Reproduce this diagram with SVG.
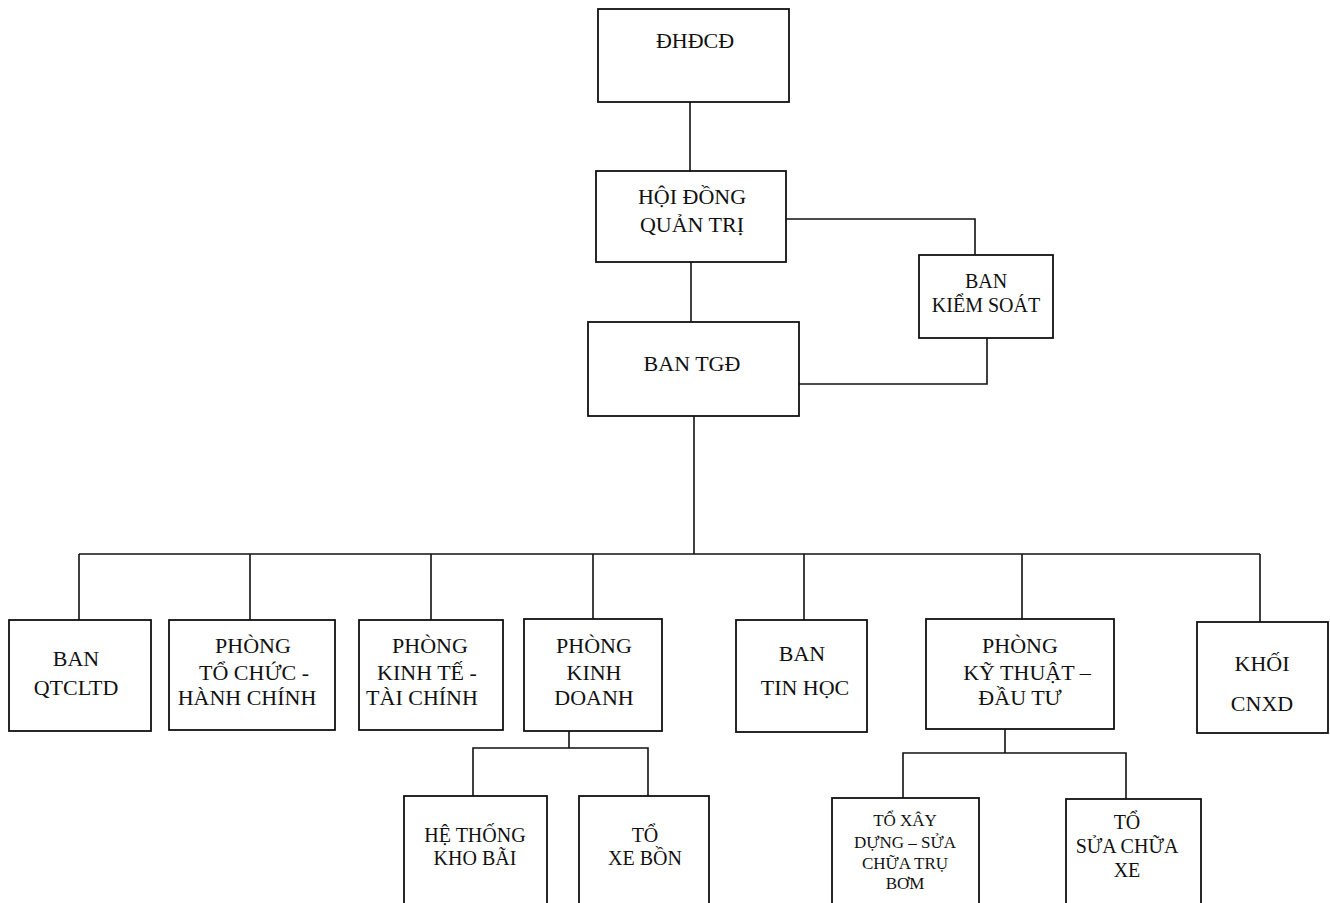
<svg xmlns="http://www.w3.org/2000/svg" width="1330" height="903" viewBox="0 0 1330 903">
<style>
rect{fill:#fff;stroke:#111;stroke-width:1.8}
.c{fill:none;stroke:#111;stroke-width:1.6}
text{fill:#111;text-anchor:middle}
.l{font-size:22px}
.m{font-size:20px}
.s{font-size:17px}
</style>
<rect x="0" y="0" width="1330" height="903" style="fill:#fff;stroke:none"/>
<g id="connectors">
<path class="c" d="M690 102V171"/>
<path class="c" d="M786 219H975V255"/>
<path class="c" d="M691 262V322"/>
<path class="c" d="M799 384H987V338"/>
<path class="c" d="M694 416V554"/>
<path class="c" d="M79 554H1260"/>
<path class="c" d="M79 554V620M250 554V620M431 554V620M593 554V619M804 554V620M1022 554V619M1260 554V622"/>
<path class="c" d="M569 731V748M473 796V748H648V796"/>
<path class="c" d="M1005 729V753M903 798V753H1126V799"/>
</g>
<g font-family="'Liberation Serif', 'DejaVu Serif', serif">
<g id="dhdcd"><rect x="598" y="9" width="191" height="93"/><text class="l" x="695" y="48">ĐHĐCĐ</text></g>
<g id="hdqt"><rect x="596" y="171" width="190" height="91"/><text class="l" x="692" y="204">HỘI ĐỒNG</text><text class="l" x="692" y="232">QUẢN TRỊ</text></g>
<g id="bks"><rect x="919" y="255" width="134" height="83"/><text class="m" x="986" y="288">BAN</text><text class="m" x="986" y="312">KIỂM SOÁT</text></g>
<g id="tgd"><rect x="588" y="322" width="211" height="94"/><text class="l" x="692" y="371">BAN TGĐ</text></g>
<g id="qtcltd"><rect x="9" y="620" width="142" height="111"/><text class="l" x="76" y="666">BAN</text><text class="l" x="76" y="695">QTCLTD</text></g>
<g id="tchc"><rect x="169" y="620" width="166" height="110"/><text class="l" x="253" y="653">PHÒNG</text><text class="l" x="254" y="680">TỔ CHỨC -</text><text class="l" x="247" y="705">HÀNH CHÍNH</text></g>
<g id="ktct"><rect x="359" y="620" width="144" height="110"/><text class="l" x="430" y="653">PHÒNG</text><text class="l" x="427" y="680">KINH TẾ -</text><text class="l" x="422" y="705">TÀI CHÍNH</text></g>
<g id="kd"><rect x="524" y="619" width="138" height="112"/><text class="l" x="594" y="653">PHÒNG</text><text class="l" x="594" y="680">KINH</text><text class="l" x="594" y="705">DOANH</text></g>
<g id="th"><rect x="736" y="620" width="131" height="112"/><text class="l" x="802" y="661">BAN</text><text class="l" x="805" y="695">TIN HỌC</text></g>
<g id="ktdt"><rect x="926" y="619" width="188" height="110"/><text class="l" x="1020" y="653">PHÒNG</text><text class="l" x="1027" y="680">KỸ THUẬT –</text><text class="l" x="1020" y="705">ĐẦU TƯ</text></g>
<g id="cnxd"><rect x="1197" y="622" width="131" height="111"/><text class="l" x="1262" y="671">KHỐI</text><text class="l" x="1262" y="711">CNXD</text></g>
<g id="htkb"><rect x="404" y="796" width="143" height="130"/><text class="m" x="475" y="842">HỆ THỐNG</text><text class="m" x="475" y="865">KHO BÃI</text></g>
<g id="xb"><rect x="579" y="796" width="130" height="130"/><text class="m" x="645" y="842">TỔ</text><text class="m" x="645" y="865">XE BỒN</text></g>
<g id="xdsc"><rect x="832" y="798" width="147" height="130"/><text class="s" x="905" y="826">TỔ XÂY</text><text class="s" x="905" y="848">DỰNG – SỬA</text><text class="s" x="905" y="869">CHỮA TRỤ</text><text class="s" x="905" y="889">BƠM</text></g>
<g id="scx"><rect x="1066" y="799" width="135" height="130"/><text class="m" x="1127" y="829">TỔ</text><text class="m" x="1127" y="853">SỬA CHỮA</text><text class="m" x="1127" y="877">XE</text></g>
</g>
</svg>
